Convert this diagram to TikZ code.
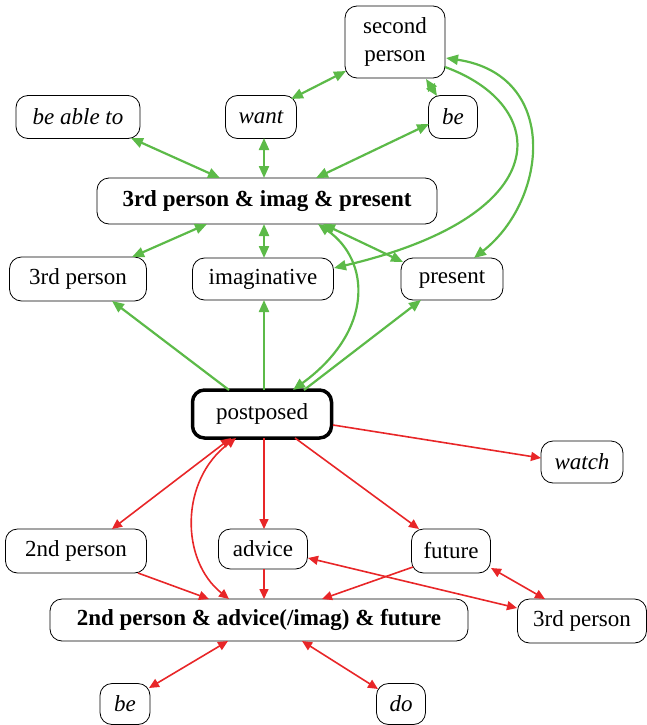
\documentclass[tikz,border=0pt]{standalone}
\usepackage{fontspec}
\setmainfont{Liberation Serif}
\usetikzlibrary{arrows.meta}
\definecolor{gr}{RGB}{92,186,72}
\definecolor{rd}{RGB}{232,38,40}
\begin{document}
\begin{tikzpicture}[x=1pt,y=-1pt,
  box/.style={draw=black, rounded corners=12pt, line width=0.8pt, inner sep=0pt,
    font=\fontsize{23}{28}\selectfont, align=center},
  ge/.style={draw=gr, line width=2.2pt, {Triangle[length=12pt,width=10pt]}-{Triangle[length=12pt,width=10pt]}},
  gs/.style={draw=gr, line width=2.2pt, -{Triangle[length=12pt,width=10pt]}},
  re/.style={draw=rd, line width=1.6pt, {Triangle[length=10pt,width=9pt]}-{Triangle[length=10pt,width=9pt]}},
  rs/.style={draw=rd, line width=1.6pt, -{Triangle[length=10pt,width=9pt]}}]
\useasboundingbox (0,0) rectangle (647,725);
% nodes
\node[box, minimum width=100pt, minimum height=72pt] (sp) at (395,42) {second\\person};
\node[box, minimum width=124pt, minimum height=43pt] (bat) at (78,117) {\itshape be able to};
\node[box, minimum width=71pt, minimum height=43pt] (want) at (261,117) {\itshape want};
\node[box, minimum width=49pt, minimum height=43pt] (be1) at (453,117) {\itshape be};
\node[box, minimum width=340pt, minimum height=46pt] (tip) at (267,201) {\bfseries 3rd person \& imag \& present};
\node[box, minimum width=137pt, minimum height=44pt] (p3) at (78,279) {3rd person};
\node[box, minimum width=141pt, minimum height=42pt] (imag) at (263,279) {imaginative};
\node[box, minimum width=102pt, minimum height=42pt] (pres) at (452,279) {present};
\node[box, line width=3.5pt, minimum width=139pt, minimum height=48pt] (post) at (262,414) {postposed};
\node[box, minimum width=82pt, minimum height=42pt] (watch) at (582,462) {\itshape watch};
\node[box, minimum width=141pt, minimum height=44pt] (p2) at (76,551) {2nd person};
\node[box, minimum width=89pt, minimum height=40pt] (adv) at (263,549) {advice};
\node[box, minimum width=79pt, minimum height=44pt] (fut) at (451,551) {future};
\node[box, minimum width=418pt, minimum height=42pt] (taf) at (259,620) {\bfseries 2nd person \& advice(/imag) \& future};
\node[box, minimum width=129pt, minimum height=44pt] (p3b) at (582,621) {3rd person};
\node[box, minimum width=50pt, minimum height=41pt] (be2) at (125,704) {\itshape be};
\node[box, minimum width=49pt, minimum height=41pt] (do) at (401,704) {\itshape do};
% green edges
\draw[ge] ([shift={(-49,29)}]sp.center) -- ([shift={(30,-18)}]want.center);
\draw[ge] ([shift={(31,37)}]sp.center) -- ([shift={(-16,-21)}]be1.center);
\draw[ge] ([shift={(53,21)}]bat.center) -- ([shift={(-47,-23)}]tip.center);
\draw[ge] ([shift={(3,21)}]want.center) -- ([shift={(-3,-23)}]tip.center);
\draw[ge] ([shift={(-24,7)}]be1.center) -- ([shift={(49,-23)}]tip.center);
\draw[ge] ([shift={(51,16)}]sp.center) .. controls (560,75) and (548,200) .. ([shift={(22,-21)}]pres.center);
\draw[gs] ([shift={(50,25)}]sp.center) .. controls (550,105) and (560,215) .. ([shift={(71,-11)}]imag.center);
\draw[ge] ([shift={(-60,23)}]tip.center) -- ([shift={(54,-22)}]p3.center);
\draw[ge] ([shift={(-3,23)}]tip.center) -- ([shift={(1,-21)}]imag.center);
\draw[ge] ([shift={(56,23)}]tip.center) -- ([shift={(-49,-17)}]pres.center);
\draw[ge] ([shift={(51,23)}]tip.center) .. controls (370,260) and (375,330) .. ([shift={(31,-24)}]post.center);
\draw[gs] ([shift={(-33,-24)}]post.center) -- ([shift={(34,22)}]p3.center);
\draw[gs] ([shift={(2,-24)}]post.center) -- ([shift={(1,21)}]imag.center);
\draw[gs] ([shift={(42,-24)}]post.center) -- ([shift={(-31,21)}]pres.center);
% red edges
\draw[rs] ([shift={(71,11)}]post.center) -- ([shift={(-41,-4)}]watch.center);
\draw[re] ([shift={(-31,24)}]post.center) -- ([shift={(36,-22)}]p2.center);
\draw[re] ([shift={(-30,-21)}]taf.center) .. controls (180,560) and (180,480) .. ([shift={(-26,24)}]post.center);
\draw[rs] ([shift={(2,24)}]post.center) -- ([shift={(1,-20)}]adv.center);
\draw[rs] ([shift={(33,24)}]post.center) -- ([shift={(-32,-22)}]fut.center);
\draw[rs] ([shift={(62,22)}]p2.center) -- ([shift={(-50,-21)}]taf.center);
\draw[rs] ([shift={(1,20)}]adv.center) -- ([shift={(5,-21)}]taf.center);
\draw[rs] ([shift={(-38,16)}]fut.center) -- ([shift={(63,-21)}]taf.center);
\draw[re] ([shift={(45,9)}]adv.center) -- ([shift={(-65,-13)}]p3b.center);
\draw[re] ([shift={(40,17)}]fut.center) -- ([shift={(-37,-22)}]p3b.center);
\draw[re] ([shift={(-31,21)}]taf.center) -- ([shift={(24,-16)}]be2.center);
\draw[re] ([shift={(43,21)}]taf.center) -- ([shift={(-23,-15)}]do.center);
\end{tikzpicture}
\end{document}
